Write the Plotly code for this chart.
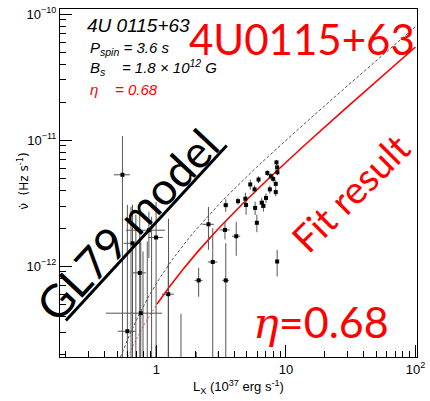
import numpy as np
import plotly.graph_objects as go

# Spin-up rate of 4U 0115+63 against X-ray luminosity (10^37 erg/s)
lum = [0.546, 0.653, 0.993, 0.874, 0.743, 0.756, 0.596, 1.233, 2.118, 2.52,
       2.72, 3.38, 3.43, 4.13, 5.96, 8.55, 3.43, 4.26, 4.86, 4.92,
       5.30, 5.72, 5.78, 6.14, 6.50, 6.70, 7.01, 7.18, 7.51, 7.64,
       7.97, 8.34, 8.34, 8.45, 8.55, 8.59,
       0.636, 0.693, 0.787, 0.849, 0.917, 0.993, 1.239, 1.546, 2.03, 3.0]
lum_err = [0.078, 0.095, 0.13, 0.29, 0.086, 0.35, 0.095, 0.13, 0.15, 0.26,
           0.23, 0.30, 0.20, 0.30, 0.10, 0.10, 0.15, 0.15, 0.15, 0.10,
           0.10, 0.10, 0.10, 0.10, 0.10, 0.10, 0.10, 0.10, 0.10, 0.10,
           0.10, 0.10, 0.10, 0.10, 0.10, 0.10,
           0, 0, 0, 0, 0, 0, 0, 0, 0, 0]
nudot = [5.31e-12, 1.52e-12, 1.69e-12, 1.93e-12, 8.86e-13, 4.24e-13, 3.05e-13, 6.0e-13, 7.72e-13, 2.15e-12,
         1.08e-12, 1.94e-12, 7.72e-13, 1.73e-12, 2.21e-12, 1.09e-12, 3.05e-12, 3.28e-12, 3.43e-12, 3.06e-12,
         4.45e-12, 4.07e-12, 2.90e-12, 4.87e-12, 3.19e-12, 3.01e-12, 3.48e-12, 5.49e-12, 4.07e-12, 5.17e-12,
         4.93e-12, 3.87e-12, 4.50e-12, 6.66e-12, 6.08e-12, 5.56e-12,
         1e-13, 1e-13, 1e-13, 1e-13, 1e-13, 1e-13, 1e-13, 1e-13, 1e-13, 1e-13]
nudot_err = [5.47e-12, 1.55e-12, 1.55e-12, 7.7e-13, 2.07e-12, 1.15e-12, 2.76e-12, 4.4e-13, 2.0e-13, 8.0e-13,
             9.2e-13, 3.1e-13, 7.5e-13, 5.2e-13, 3.5e-13, 2.6e-13, 3.5e-13, 2.0e-13, 4.0e-13, 5.0e-13,
             4.0e-13, 3.0e-13, 3.5e-13, 3.0e-13, 3.0e-13, 3.0e-13, 3.0e-13, 3.0e-13, 3.0e-13, 3.0e-13,
             3.0e-13, 3.0e-13, 3.0e-13, 3.0e-13, 3.0e-13, 3.0e-13,
             2.86e-12, 2.46e-12, 1.21e-12, 1.47e-12, 2.37e-12, 1.32e-13, 2.28e-12, 3.2e-13, 1.09e-13, 1.09e-13]

# Ghosh & Lamb (1979) torque model
gl79_lum = [0.527, 0.617, 0.734, 0.874, 1.041, 1.352, 1.918, 3.234, 5.957, 11.97, 28.63, 68.48, 100.0]
gl79_nudot = [1.90e-13, 2.82e-13, 4.13e-13, 5.79e-13, 7.82e-13, 1.163e-12, 1.837e-12, 3.32e-12,
              6.13e-12, 1.178e-11, 2.60e-11, 5.66e-11, 7.93e-11]

# Fitted model (eta = 0.68): fitted range and its extrapolation below L = 1
fit_lum = [1.010, 1.239, 1.610, 2.091, 2.965, 4.585, 7.738, 14.25, 28.63, 57.52, 100.0]
fit_nudot = [5.01e-13, 6.72e-13, 9.51e-13, 1.311e-12, 1.953e-12, 3.10e-12, 5.22e-12, 9.32e-12,
             1.772e-11, 3.33e-11, 5.48e-11]
ext_lum = [0.599, 0.778, 1.010]
ext_nudot = [1.91e-13, 3.25e-13, 5.01e-13]

# error bars that reach below zero are drawn down to the axis floor
nd = np.array(nudot)
ne = np.array(nudot_err)
lower = np.maximum(nd - ne, 1e-15)
err_minus = nd - lower

fig = go.Figure()
fig.add_trace(go.Scatter(
    x=gl79_lum, y=gl79_nudot, mode="lines",
    line=dict(color="#555555", width=1, dash="3px,2px"),
    showlegend=False))
fig.add_trace(go.Scatter(
    x=ext_lum, y=ext_nudot, mode="lines",
    line=dict(color="rgba(255,0,0,0.45)", width=1.2, dash="2px,2px"),
    showlegend=False))
fig.add_trace(go.Scatter(
    x=fit_lum, y=fit_nudot, mode="lines",
    line=dict(color="#ff0000", width=1.6),
    showlegend=False))
fig.add_trace(go.Scatter(
    x=lum, y=nudot, mode="markers",
    marker=dict(symbol="square", size=4, color="black"),
    error_x=dict(type="data", array=lum_err, color="#555555", thickness=1, width=0),
    error_y=dict(type="data", array=nudot_err, arrayminus=list(err_minus),
                 color="#555555", thickness=1, width=0),
    showlegend=False))

L, R, T, B = 60, 6, 5, 44
W, H = 430, 401
pw, ph = W - L - R, H - T - B


def px(x):
    return (x - L) / pw


def py(y):
    return (H - B - y) / ph


tick_font = dict(family="Liberation Sans, Arial, sans-serif", size=13, color="black")
red = "#ff0000"

annotations = [
    dict(x=px(85), y=py(22), text="<i>4U 0115+63</i>", xanchor="left", yanchor="middle",
         font=dict(family="Liberation Sans, Arial", size=19, color="black")),
    dict(x=px(89), y=py(45), text="<i>P<sub>spin</sub> = 3.6 s</i>", xanchor="left", yanchor="middle",
         font=dict(family="Liberation Sans, Arial", size=15, color="black")),
    dict(x=px(89), y=py(64), text="<i>B<sub>s</sub>\u00a0\u00a0\u00a0 = 1.8 \u00d7 10<sup>12</sup> G</i>",
         xanchor="left", yanchor="middle",
         font=dict(family="Liberation Sans, Arial", size=15, color="black")),
    dict(x=px(89), y=py(86), text="<i>\u03b7\u00a0\u00a0\u00a0 = 0.68</i>", xanchor="left", yanchor="middle",
         font=dict(family="Liberation Sans, Arial", size=15, color=red)),
    dict(x=px(189), y=py(35), text="4U0115+63", xanchor="left", yanchor="middle",
         font=dict(family="Lato, sans-serif", size=42, color=red)),
    dict(x=px(356), y=py(190), text="Fit result", textangle=-45, xanchor="center", yanchor="middle",
         font=dict(family="Lato, sans-serif", size=38, color=red)),
    dict(x=px(128), y=py(223), text="GL79 model", textangle=-47, xanchor="center", yanchor="middle",
         font=dict(family="Lato, sans-serif", size=45, color="black")),
    dict(x=px(255), y=py(322), xanchor="left", yanchor="middle",
         text="<span style='font-family:DejaVu Serif'><i>\u03b7</i></span>=0.68",
         font=dict(family="Lato, sans-serif", size=43, color=red)),
    dict(x=px(22), y=py(179), text="\u03bd\u0307\u00a0 (Hz s<sup>-1</sup>)", textangle=-90,
         xanchor="center", yanchor="middle",
         font=dict(family="DejaVu Sans, Liberation Sans, sans-serif", size=12, color="black")),
]
for a in annotations:
    a.update(xref="paper", yref="paper", showarrow=False)

fig.update_layout(
    width=W, height=H,
    margin=dict(l=L, r=R, t=T, b=B),
    paper_bgcolor="white", plot_bgcolor="white",
    annotations=annotations,
    shapes=[dict(type="line", xref="paper", yref="paper",
                 x0=px(66), y0=py(320), x1=px(230), y1=py(143),
                 line=dict(color="black", width=3))],
)

x_minor = [m * 10.0 ** d for d in (-1, 0, 1) for m in range(2, 10)]
y_minor = [m * 10.0 ** d for d in (-13, -12, -11) for m in range(2, 10)]

fig.update_xaxes(
    type="log", range=[-0.745, 2.012],
    showgrid=False, zeroline=False,
    showline=True, linecolor="black", linewidth=1, mirror=True,
    ticks="inside", ticklen=12, tickcolor="black",
    tickmode="array", tickvals=[1, 10, 100], ticktext=["1", "10", "10<sup>2</sup>"],
    ticklabeloverflow="allow",
    minor=dict(tickmode="array", tickvals=x_minor, ticks="inside", ticklen=6, tickcolor="black"),
    tickfont=tick_font,
    title=dict(text="L<sub>X</sub> (10<sup>37</sup> erg s<sup>-1</sup>)", font=tick_font, standoff=6),
)
fig.update_yaxes(
    type="log", range=[-12.72, -9.96],
    showgrid=False, zeroline=False,
    showline=True, linecolor="black", linewidth=1, mirror=True,
    ticks="inside", ticklen=12, tickcolor="black",
    tickmode="array", tickvals=[1e-12, 1e-11, 1e-10],
    ticktext=["10<sup>\u221212</sup>", "10<sup>\u221211</sup>", "10<sup>\u221210</sup>"],
    ticklabeloverflow="allow",
    minor=dict(tickmode="array", tickvals=y_minor, ticks="inside", ticklen=6, tickcolor="black"),
    tickfont=tick_font,
)

fig.write_html("out.html")
